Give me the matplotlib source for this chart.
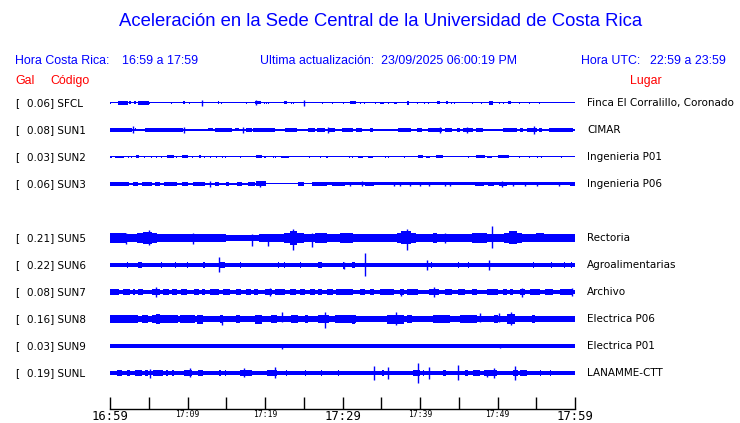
import matplotlib
matplotlib.use('Agg')
import matplotlib.pyplot as plt

BLUE = '#0000FF'
RED = '#FF0000'

W, H = 740, 423

# ── Stations ──
STATIONS = ['SFCL', 'SUN1', 'SUN2', 'SUN3', 'SUN5', 'SUN6', 'SUN7', 'SUN8', 'SUN9', 'SUNL']
GAL = [0.06, 0.08, 0.03, 0.06, 0.21, 0.22, 0.08, 0.16, 0.03, 0.19]
PLACES = ['Finca El Corralillo, Coronado', 'CIMAR', 'Ingenieria P01', 'Ingenieria P06',
          'Rectoria', 'Agroalimentarias', 'Archivo', 'Electrica P06', 'Electrica P01',
          'LANAMME-CTT']
SLOTS = [0, 1, 2, 3, 5, 6, 7, 8, 9, 10]   # slot 4 (SUN4) is empty

TICK_MIN = list(range(0, 61, 5))
TICK_LABELS = ['16:59', '', '17:09', '', '17:19', '', '17:29', '', '17:39', '', '17:49', '', '17:59']
BIG_LABELS = ['16:59', '17:29', '17:59']

# trace envelopes: (start minute, end minute, half amplitude in display px)
SEG_SFCL = [(0, 60, 0.5), (0.0, 0.15, 1.0), (1.07, 2.28, 1.7), (2.5, 2.67, 1.5), (3.14, 3.36, 1.5),
            (3.66, 5.03, 1.7), (5.16, 5.16, 1.0), (7.96, 7.96, 1.0), (9.46, 9.68, 1.5), (10.24, 10.24, 1.0),
            (13.9, 14.06, 1.5), (14.4, 14.4, 1.0), (17.6, 17.6, 1.0), (18.7, 19.5, 1.5), (19.9, 19.9, 1.0),
            (20.2, 20.2, 1.0), (20.5, 20.5, 1.0), (22.5, 22.9, 1.5), (23.4, 23.4, 1.0), (23.65, 23.65, 1.0),
            (27.4, 27.4, 1.0), (28.7, 28.7, 1.0), (30.1, 30.1, 1.0), (30.97, 31.74, 1.5), (32.35, 32.35, 1.0),
            (32.9, 32.9, 1.0), (34.2, 34.2, 1.0), (34.8, 35.3, 1.2), (35.9, 35.9, 1.0), (36.6, 37.0, 1.3),
            (38.3, 38.6, 1.7), (39.7, 39.7, 1.0), (40.6, 40.6, 1.0), (41.1, 41.1, 1.0), (42.2, 42.6, 1.5),
            (43.4, 43.5, 1.5), (44.1, 44.1, 1.0), (44.5, 44.5, 1.0), (46.8, 46.8, 1.0), (47.96, 47.96, 1.0),
            (48.95, 49.4, 1.7), (50.2, 50.2, 1.0), (50.8, 50.8, 1.0), (51.4, 51.7, 1.5), (52.9, 52.9, 1.0),
            (54.1, 54.1, 1.0), (55.4, 55.4, 1.0)]
SEG_SUN1 = [(0, 60, 1.0), (0.0, 2.8, 1.8), (3.2, 3.4, 1.5), (4.5, 9.46, 1.8), (9.68, 11.83, 1.4),
            (12.7, 13.3, 1.5), (13.55, 15.7, 1.8), (16.1, 16.6, 1.5), (17.6, 18.3, 1.7), (18.5, 21.3, 1.8),
            (21.7, 22.1, 1.4), (22.6, 24.1, 1.7), (24.3, 24.7, 1.4), (25.6, 26.45, 2.1), (26.7, 27.7, 1.8),
            (28.2, 29.0, 1.9), (29.9, 31.4, 1.9), (31.8, 32.5, 1.6), (33.5, 33.9, 1.6), (34.3, 34.3, 1.3),
            (35.6, 35.6, 1.3), (36.1, 36.1, 1.3), (37.2, 38.9, 1.6), (39.6, 40.2, 1.7), (41.0, 42.8, 2.1),
            (43.2, 44.1, 1.7), (44.8, 45.2, 1.6), (45.6, 46.9, 1.9), (47.2, 48.1, 1.7), (49.0, 49.0, 1.3),
            (49.5, 49.5, 1.3), (50.7, 52.5, 1.7), (52.9, 53.3, 1.6), (53.8, 55.1, 2.3), (55.3, 55.8, 1.6),
            (56.6, 59.8, 2.1)]
SEG_SUN2 = [(0, 60, 0.5), (0.0, 0.2, 1.3), (0.7, 1.85, 1.4), (2.4, 2.4, 1.0), (2.8, 2.8, 1.0), (3.3, 3.8, 1.5),
            (4.5, 4.5, 1.0), (5.3, 5.3, 1.0), (6.0, 6.0, 1.0), (6.7, 6.7, 1.0), (7.3, 8.2, 1.5), (8.6, 8.6, 1.0),
            (9.3, 10.1, 1.5), (10.6, 10.6, 1.0), (11.5, 11.8, 1.5), (12.2, 12.2, 1.0), (13.0, 13.0, 1.0),
            (13.8, 13.8, 1.0), (14.5, 14.5, 1.0), (14.9, 14.9, 1.0), (16.8, 16.8, 1.0), (18.8, 19.6, 1.5),
            (20.0, 20.0, 1.0), (21.1, 21.1, 1.0), (21.3, 21.3, 1.0), (22.1, 23.1, 1.4), (25.7, 25.7, 1.0),
            (27.1, 27.1, 1.0), (28.0, 28.0, 1.0), (30.9, 30.9, 1.0), (31.3, 31.3, 1.0), (32.05, 32.7, 1.4),
            (33.3, 33.9, 1.4), (35.5, 35.5, 1.0), (35.9, 35.9, 1.0), (38.0, 38.0, 1.0), (39.7, 40.35, 1.5),
            (40.8, 41.3, 1.4), (42.1, 43.0, 1.5), (46.2, 46.2, 1.0), (47.2, 48.4, 1.5), (48.6, 49.3, 1.4),
            (50.1, 51.5, 1.5), (52.9, 52.9, 1.0), (54.1, 54.1, 1.0), (55.2, 55.2, 1.0), (55.7, 55.7, 1.0),
            (58.2, 58.2, 1.0)]
SEG_SUN3 = [(0, 60, 0.5), (0, 20.1, 1.4), (26.1, 60, 1.5), (0, 2.4, 2.0), (3.0, 3.66, 1.9), (4.1, 5.4, 2.0),
            (5.8, 6.45, 1.9), (7.0, 8.6, 1.9), (9.25, 10.1, 2.0), (10.75, 12.3, 1.9), (13.5, 14.0, 1.8),
            (15.0, 15.4, 1.8), (16.4, 17.0, 1.8), (17.85, 18.7, 1.9), (18.9, 20.1, 2.5), (24.2, 25.0, 1.8),
            (26.1, 28.0, 1.9), (28.6, 30.3, 1.9), (32.9, 34.0, 1.8), (47.1, 48.2, 1.9), (48.8, 49.5, 1.9),
            (50.2, 51.2, 2.3), (59.4, 60, 1.9)]
SEG_SUN5 = [(0, 15.0, 3.8), (15.0, 19.2, 2.6), (19.2, 60, 3.8), (0, 2.0, 4.8), (3.5, 6.0, 4.8), (4.3, 5.4, 6.0),
            (8.0, 9.0, 4.4), (11.0, 12.5, 4.4), (22.5, 25.0, 5.0), (23.2, 24.1, 7.0), (26.5, 28.0, 4.8),
            (29.7, 31.4, 4.8), (33.0, 34.0, 4.4), (37.0, 39.5, 4.8), (37.6, 38.9, 6.5), (41.7, 42.2, 4.8),
            (44.0, 45.0, 4.4), (46.7, 48.6, 5.0), (50.8, 53.1, 5.0), (51.5, 52.5, 6.5), (55.0, 56.0, 4.5)]
SEG_SUN6 = [(0, 60, 2.2), (3.65, 4.1, 2.8), (2.2, 2.2, 2.8), (6.7, 6.7, 2.8), (8.5, 8.5, 2.8), (10.0, 10.0, 2.8),
            (12.0, 12.3, 3.3), (14.2, 14.8, 3.1), (16.8, 16.8, 2.8), (21.7, 21.7, 2.8), (22.5, 22.5, 2.8),
            (24.6, 24.6, 3.1), (26.9, 27.3, 2.8), (30.1, 30.1, 3.5), (31.2, 31.6, 2.8), (41.5, 41.5, 2.8),
            (44.95, 44.95, 2.8), (46.2, 46.2, 2.8), (54.6, 54.6, 2.8), (57.0, 57.0, 2.8), (58.7, 58.7, 2.8),
            (59.6, 59.6, 2.8)]
SEG_SUN7 = [(0, 60, 1.8)] + [(s, e, 2.6) for s, e in
            [(0, 1.1), (1.7, 2.6), (3.0, 3.2), (3.65, 4.3), (5.4, 6.45), (6.9, 7.6), (8.0, 8.6), (9.2, 9.9),
             (10.8, 11.5), (11.9, 12.3), (12.9, 14.0), (14.6, 15.5), (16.3, 16.9), (17.5, 18.2), (18.6, 19.1),
             (20.0, 20.9), (21.3, 22.6), (23.2, 24.0), (24.5, 25.2), (25.8, 26.4), (26.8, 27.3), (28.0, 28.8),
             (29.2, 31.4), (32.3, 32.9), (33.6, 34.0), (34.8, 36.6), (37.4, 37.9), (38.3, 39.8), (41.1, 42.4),
             (43.2, 44.1), (44.9, 45.8), (46.7, 47.3), (48.6, 50.1), (50.7, 51.2), (51.6, 52.0), (52.9, 53.6),
             (54.2, 55.5), (56.1, 57.2), (58.1, 59.8)]]
SEG_SUN8 = [(0, 60, 2.7), (0, 3.66, 4.0), (4.1, 4.9, 3.6), (5.4, 8.8, 4.2), (5.9, 6.5, 5.0), (9.0, 11.0, 3.6),
            (11.2, 12.0, 4.5), (14.2, 14.6, 4.0), (16.3, 16.8, 3.6), (18.7, 19.6, 4.5), (20.8, 21.5, 3.6),
            (23.4, 24.3, 3.6), (25.2, 25.6, 3.6), (26.9, 28.2, 4.0), (29.0, 30.3, 3.6), (29.7, 31.8, 3.6),
            (31.2, 31.6, 4.5), (33.1, 34.0, 3.3), (35.7, 37.9, 4.5), (38.3, 39.0, 3.6), (41.7, 43.9, 4.0),
            (45.2, 47.3, 3.6), (49.5, 50.0, 3.6), (51.2, 52.3, 5.0), (54.4, 54.8, 3.6), (56.8, 56.8, 3.3),
            (58.5, 58.5, 3.3)]
SEG_SUN9 = [(0, 60, 1.7)] + [(m, m, 2.2) for m in
            [2.0, 8.5, 13.0, 20.0, 22.2, 27.0, 35.9, 46.2, 50.3]]
SEG_SUNL = [(0, 60, 2.1)] + [(s, e, 3.0) for s, e in
            [(0.9, 1.5), (2.15, 2.6), (3.2, 4.1), (4.5, 4.9), (5.6, 6.9), (7.2, 7.5), (8.0, 8.3), (9.6, 10.6),
             (11.4, 12.0), (14.0, 14.3), (14.8, 15.0), (16.8, 18.3), (20.2, 21.5), (22.8, 22.8), (25.2, 25.2),
             (27.3, 27.3), (29.5, 29.5), (35.1, 35.4), (39.1, 40.0), (40.5, 40.5), (43.0, 43.4), (45.8, 46.2),
             (46.9, 47.7), (48.2, 49.9), (52.0, 52.6), (52.9, 53.8), (55.5, 55.5), (56.9, 56.9)]]

# spikes: (minute, up px, down px)
SPK_SFCL = [(11.83, 3.3, 3.3), (18.8, 2.5, 2.5), (25.03, 3.0, 3.0)]
SPK_SUN1 = [(3.0, 3.5, 3.5), (9.6, 3.0, 3.0), (17.1, 3.0, 3.0), (28.1, 3.0, 3.0), (42.6, 2.8, 2.8),
            (46.0, 2.6, 2.6), (54.75, 4.0, 4.0)]
SPK_SUN2 = []
SPK_SUN3 = [(12.9, 3.0, 3.0), (19.4, 3.0, 3.0), (30.97, 2.2, 2.2), (32.5, 2.5, 2.5), (36.6, 2.2, 2.2),
            (37.4, 2.2, 2.2), (38.7, 2.2, 2.2), (40.0, 2.3, 2.3), (41.1, 2.2, 2.2), (43.2, 2.2, 2.2),
            (43.9, 2.2, 2.2), (52.0, 2.2, 2.2), (53.6, 2.2, 2.2), (55.1, 2.2, 2.2), (57.9, 2.2, 2.2),
            (50.6, 3.0, 3.0)]
SPK_SUN5 = [(5.0, 7.5, 7.5), (23.6, 9.0, 12.0), (38.3, 9.0, 12.0), (49.25, 11.7, 10.3), (10.7, 4.5, 6.0),
            (18.3, 3.5, 8.0), (20.4, 3.5, 8.0), (26.0, 4.5, 9.0), (2.0, 4.5, 6.5), (43.2, 4.8, 4.8)]
SPK_SUN6 = [(14.0, 7.7, 7.3), (32.9, 12.0, 11.0), (40.95, 4.5, 4.5), (48.9, 5.0, 5.0), (30.2, 3.5, 3.5)]
SPK_SUN7 = [(5.9, 5.5, 4.5), (20.6, 4.0, 4.0), (41.85, 5.0, 5.0), (53.2, 4.5, 4.5), (59.6, 4.0, 4.0),
            (37.6, 3.5, 3.5)]
SPK_SUN8 = [(14.4, 3.0, 6.0), (19.1, 4.5, 4.5), (22.2, 7.0, 3.0), (27.8, 7.0, 9.0), (36.9, 7.0, 6.0),
            (47.75, 6.0, 3.0), (50.2, 6.0, 3.0), (51.7, 7.0, 6.0)]
SPK_SUN9 = [(22.2, 0.5, 2.5), (50.3, 2.2, 2.2)]
SPK_SUNL = [(5.1, 4.0, 5.0), (10.3, 5.0, 4.0), (17.3, 5.0, 4.0), (21.3, 6.0, 5.0), (34.1, 7.0, 7.0),
            (35.9, 6.0, 6.0), (39.8, 10.0, 10.0), (41.1, 6.0, 6.0), (44.95, 8.0, 7.0), (49.5, 5.0, 5.0),
            (52.3, 7.0, 7.0), (48.6, 3.5, 4.0)]

SEGS = [SEG_SFCL, SEG_SUN1, SEG_SUN2, SEG_SUN3, SEG_SUN5, SEG_SUN6, SEG_SUN7, SEG_SUN8, SEG_SUN9, SEG_SUNL]
SPIKES = [SPK_SFCL, SPK_SUN1, SPK_SUN2, SPK_SUN3, SPK_SUN5, SPK_SUN6, SPK_SUN7, SPK_SUN8, SPK_SUN9, SPK_SUNL]


def fx(x):
    return x / W


def fy(y):
    return 1 - y / H


fig = plt.figure(figsize=(W / 100, H / 100), dpi=100)
fig.patch.set_facecolor('white')

# trace area: x 110..575 px, slot centres at 103 + 27*i px, time axis at 409 px
ax = fig.add_axes([fx(110), fy(409), fx(575) - fx(110), fy(92) - fy(409)])
slot_px = 27.0
ax.set_xlim(0, 60)
ax.set_ylim((409 - 103) / slot_px, (92 - 103) / slot_px)
k = 1 / slot_px

for slot, segs, spikes in zip(SLOTS, SEGS, SPIKES):
    for s, e, h in segs:
        if e - s < 0.13:
            s, e = s - 0.065, e + 0.065
        ax.bar(s, 2 * h * k, width=e - s, bottom=slot - h * k, align='edge',
               color=BLUE, linewidth=0)
    for m, up, dn in spikes:
        ax.vlines(m, slot - up * k, slot + dn * k, color=BLUE, linewidth=1.0, clip_on=False)

for sp in ['top', 'right', 'left']:
    ax.spines[sp].set_visible(False)
ax.spines['bottom'].set_linewidth(1.0)
ax.set_yticks([])
ax.set_xticks(TICK_MIN)
ax.set_xticklabels(TICK_LABELS, family='DejaVu Sans Mono')
ax.tick_params(axis='x', direction='in', length=9, width=1, pad=1, colors='black')
for lab in ax.get_xticklabels():
    lab.set_fontsize(8.8 if lab.get_text() in BIG_LABELS else 5.8)

# header texts
fig.text(fx(381), fy(22), 'Aceleración en la Sede Central de la Universidad de Costa Rica',
         ha='center', va='center', fontsize=13.3, color=BLUE, family='Liberation Sans')
hdr = dict(fontsize=8.9, color=BLUE, family='Liberation Sans', va='center')
fig.text(fx(15), fy(61), 'Hora Costa Rica:', **hdr)
fig.text(fx(122), fy(61), '16:59 a 17:59', **hdr)
fig.text(fx(260), fy(61), 'Ultima actualización:  23/09/2025 06:00:19 PM', **hdr)
fig.text(fx(581), fy(61), 'Hora UTC:', **hdr)
fig.text(fx(650), fy(61), '22:59 a 23:59', **hdr)
red = dict(fontsize=8.9, color=RED, family='Liberation Sans', va='center')
fig.text(fx(15), fy(81), 'Gal', **red)
fig.text(fx(50), fy(81), 'Código', **red)
fig.text(fx(662), fy(81), 'Lugar', ha='right', **red)

lab = dict(fontsize=7.5, color='black', family='DejaVu Sans', va='center')
for slot, code, gal, place in zip(SLOTS, STATIONS, GAL, PLACES):
    yc = 103 + 27 * slot
    fig.text(fx(15), fy(yc), '[', **lab)
    fig.text(fx(27), fy(yc), f'{gal:.2f}] {code}', **lab)
    fig.text(fx(587), fy(yc), place, **lab)

fig.savefig('out.png', dpi=100, facecolor='white')
